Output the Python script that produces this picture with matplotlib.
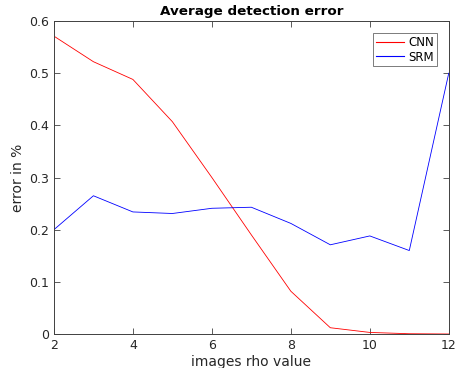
import numpy as np
import matplotlib
matplotlib.use('Agg')
import matplotlib.pyplot as plt

# valores
rho = [2, 3, 4, 5, 6, 7, 8, 9, 10, 11, 12]
cnn = [0.571, 0.522, 0.488, 0.407, 0.300, 0.190, 0.082, 0.012, 0.003, 0.0005, 0.0]
srm = [0.200, 0.265, 0.234, 0.231, 0.241, 0.243, 0.212, 0.171, 0.188, 0.160, 0.500]

cor_eixo = '#404040'

fig = plt.figure(figsize=(4.57, 3.68), dpi=100)
ax = fig.add_axes([0.118, 0.0924, 0.864, 0.8505])

ax.plot(rho, cnn, color='#ff0000', linewidth=0.6, label='CNN')
ax.plot(rho, srm, color='#0000ff', linewidth=0.6, label='SRM')

ax.set_xlim(2, 12)
ax.set_ylim(0, 0.6)
ax.set_xticks([2, 4, 6, 8, 10, 12])
ax.set_yticks([0, 0.1, 0.2, 0.3, 0.4, 0.5, 0.6])
ax.set_yticklabels(['0', '0.1', '0.2', '0.3', '0.4', '0.5', '0.6'])

ax.tick_params(direction='in', top=True, right=True, length=4, width=0.6,
               colors=cor_eixo, labelsize=9, labelcolor='#262626')
for s in ax.spines.values():
    s.set_color(cor_eixo)
    s.set_linewidth(0.7)

ax.set_title('Average detection error', fontsize=9.7, fontweight='bold', pad=4)
ax.set_xlabel('images rho value', fontsize=10, color='#262626', labelpad=2)
ax.set_ylabel('error in %', fontsize=10, color='#262626', labelpad=3)

leg = ax.legend(loc='upper right', fontsize=8.5, frameon=True, fancybox=False,
                borderaxespad=1.0, handlelength=2.3, handletextpad=0.4,
                borderpad=0.25, labelspacing=0.15)
leg.get_frame().set_edgecolor(cor_eixo)
leg.get_frame().set_linewidth(0.6)
for linha, c in zip(leg.get_lines(), ['#ff0000', '#0000ff']):
    linha.set_color(c)
    linha.set_linewidth(0.8)

fig.savefig('out.png', dpi=100)
